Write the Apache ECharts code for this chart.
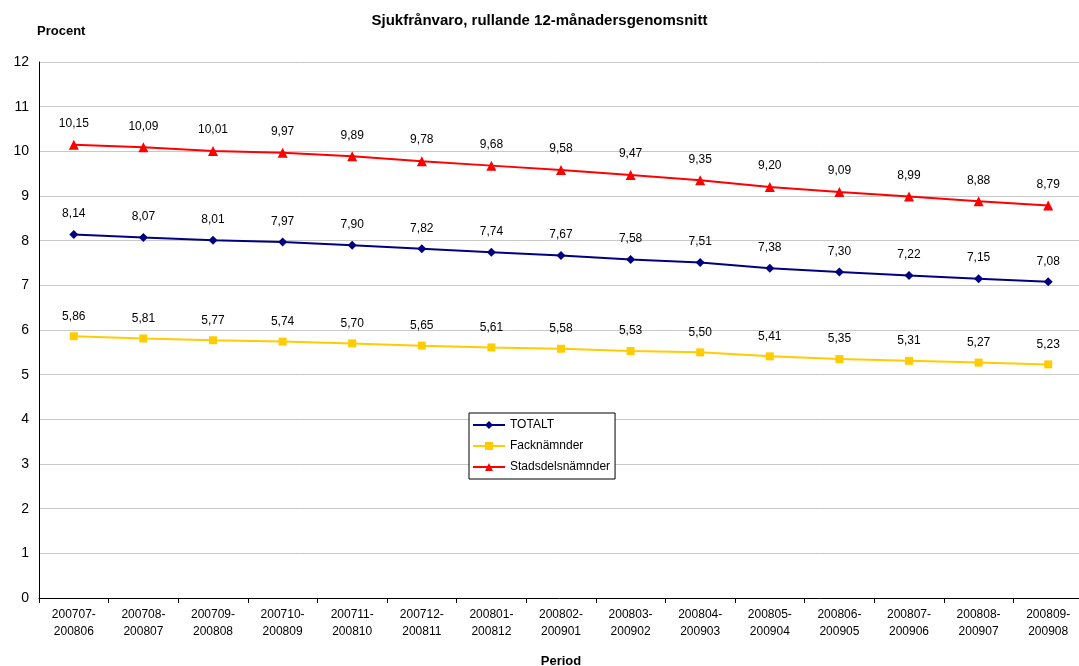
<!DOCTYPE html>
<html><head><meta charset="utf-8">
<script src="https://cdn.jsdelivr.net/npm/echarts@6/dist/echarts.min.js"></script>
<style>html,body{margin:0;padding:0;background:#fff;overflow:hidden}#c{width:1079px;height:666px}</style>
</head><body><div id="c"></div>
<script>
const categories = ["200707-\n200806","200708-\n200807","200709-\n200808","200710-\n200809","200711-\n200810","200712-\n200811","200801-\n200812","200802-\n200901","200803-\n200902","200804-\n200903","200805-\n200904","200806-\n200905","200807-\n200906","200808-\n200907","200809-\n200908"];
const totalt = [8.14,8.07,8.01,7.97,7.90,7.82,7.74,7.67,7.58,7.51,7.38,7.30,7.22,7.15,7.08];
const fack = [5.86,5.81,5.77,5.74,5.70,5.65,5.61,5.58,5.53,5.50,5.41,5.35,5.31,5.27,5.23];
const stads = [10.15,10.09,10.01,9.97,9.89,9.78,9.68,9.58,9.47,9.35,9.20,9.09,8.99,8.88,8.79];
const yTicks = {min:0, max:12, interval:1};

const font = 'Liberation Sans, Arial, sans-serif';
const fmt = p => p.value.toFixed(2).replace('.', ',');
function mk(name, data, color, symbol, size){
  return {name, type:'line', data, symbol, symbolSize:size, color,
    lineStyle:{color, width:2}, itemStyle:{color},
    label:{show:true, position:'top', distance:10, formatter:fmt, color:'#000', fontSize:12, fontFamily:font},
    animation:false};
}
const chart = echarts.init(document.getElementById('c'));
chart.setOption({
  backgroundColor:'#fff',
  textStyle:{fontFamily:font},
  title:{text:'Sjukfrånvaro, rullande 12-månadersgenomsnitt', left:'center', top:8,
    textStyle:{fontSize:15, fontWeight:'bold', color:'#000', fontFamily:font}},
  grid:{left:39, right:-4, top:62, bottom:68, containLabel:false, outerBoundsMode:'none'},
  legend:{orient:'vertical', left:469, top:413, itemWidth:32, itemHeight:10, itemGap:9,
    padding:[6,5,6,3], borderColor:'#000', borderWidth:1, backgroundColor:'#fff',
    textStyle:{fontSize:12, color:'#000', fontFamily:font},
    data:['TOTALT','Facknämnder','Stadsdelsnämnder']},
  xAxis:{type:'category', data:categories, boundaryGap:true,
    name:'Period', nameLocation:'middle', nameGap:57,
    nameTextStyle:{fontSize:13, fontWeight:'bold', color:'#000'},
    axisLine:{lineStyle:{color:'#000', width:1}},
    axisTick:{show:true, alignWithLabel:false, lineStyle:{color:'#000'}},
    axisLabel:{color:'#000', fontSize:12, margin:8, lineHeight:17, interval:0},
    splitLine:{show:false}},
  yAxis:{type:'value', min:yTicks.min, max:yTicks.max, interval:yTicks.interval,
    name:'Procent', nameLocation:'end', nameGap:24,
    nameTextStyle:{fontSize:13, fontWeight:'bold', color:'#000', align:'left', padding:[0,0,0,-2]},
    axisLine:{show:true, lineStyle:{color:'#000', width:1}},
    axisTick:{show:false},
    axisLabel:{color:'#000', fontSize:14, margin:10},
    splitLine:{show:true, lineStyle:{color:'#c8c8c8', width:1}}},
  series:[
    mk('TOTALT', totalt, '#000080', 'diamond', 9),
    mk('Facknämnder', fack, '#FFCC00', 'rect', 8),
    mk('Stadsdelsnämnder', stads, '#FF0000', 'triangle', 10)
  ]
});
</script></body></html>
